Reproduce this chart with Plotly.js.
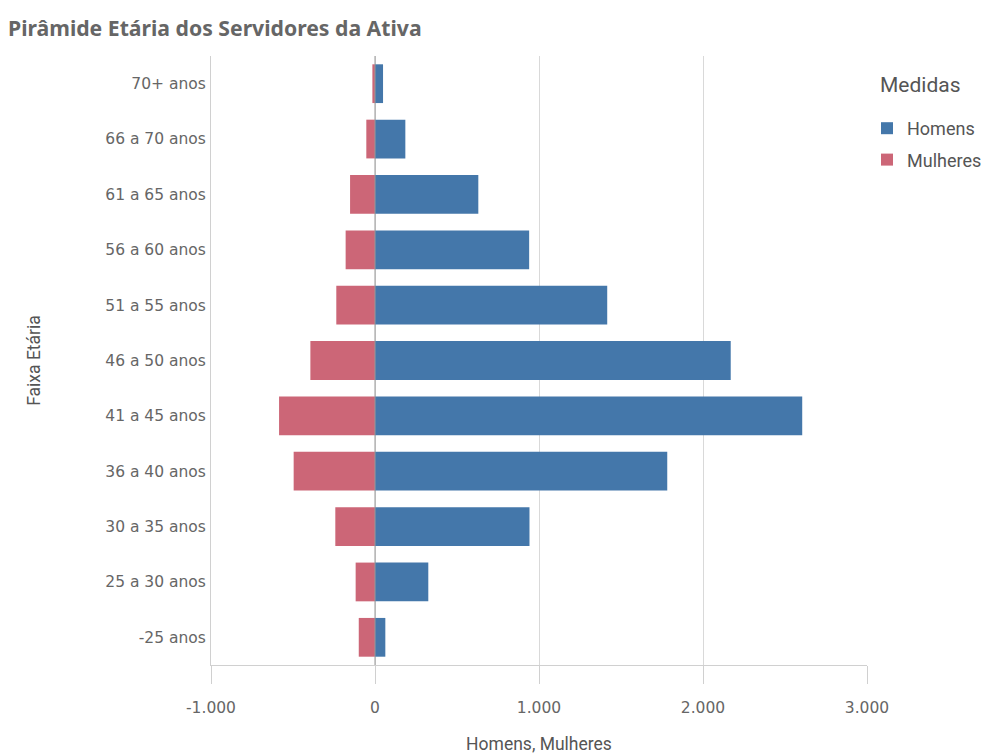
<!DOCTYPE html>
<html>
<head>
<meta charset="utf-8">
<script src="https://cdn.plot.ly/plotly-3.0.1.min.js"></script>
<style>
  html, body { margin: 0; padding: 0; background: #fff; }
  #chart { width: 995px; height: 754px; }
</style>
</head>
<body>
<div id="chart"></div>
<script>
// Age bands, listed top to bottom
const faixas = ['70+ anos', '66 a 70 anos', '61 a 65 anos', '56 a 60 anos', '51 a 55 anos',
                '46 a 50 anos', '41 a 45 anos', '36 a 40 anos', '30 a 35 anos', '25 a 30 anos', '-25 anos'];
// Headcount per band (women drawn to the left as negative values)
const homens   = [49, 185, 630, 940, 1416, 2169, 2605, 1782, 942, 325, 63];
const mulheres = [-16, -53, -152, -179, -236, -394, -585, -496, -242, -118, -99];
const xTicks = [-1000, 0, 1000, 2000, 3000];
const xTickText = ['-1.000', '0', '1.000', '2.000', '3.000'];

const tickFont = { family: 'DejaVu Sans, sans-serif', size: 15.5, color: '#666' };
const axisTitleFont = { family: 'Roboto, sans-serif', size: 17.5, color: '#555' };

const traces = [
  {
    type: 'bar', orientation: 'h', name: 'Homens', legendgroup: 'h',
    y: faixas, x: homens,
    marker: { color: '#4477aa' },
    hoverinfo: 'name+x'
  },
  {
    type: 'bar', orientation: 'h', name: 'Mulheres', legendgroup: 'm',
    y: faixas, x: mulheres,
    marker: { color: '#cc6677' },
    hoverinfo: 'name+x'
  }
];

const layout = {
  width: 995, height: 754,
  margin: { l: 211, r: 128, t: 56, b: 89 },
  paper_bgcolor: '#fff', plot_bgcolor: '#fff',
  barmode: 'relative',
  bargap: 0.3,
  title: {
    text: '<b>Pirâmide Etária dos Servidores da Ativa</b>',
    font: { family: 'Noto Sans, sans-serif', size: 21.2, color: '#666' },
    x: 8 / 995, xref: 'container', xanchor: 'left',
    y: 1 - 29 / 754, yref: 'container', yanchor: 'middle'
  },
  xaxis: {
    range: [-1000, 3000],
    tickmode: 'array', tickvals: xTicks, ticktext: xTickText,
    tickfont: tickFont,
    showgrid: true, gridcolor: '#d9d9d9', gridwidth: 1,
    zeroline: false,
    showline: true, linecolor: '#d0d0d0', linewidth: 1,
    ticks: 'outside', ticklen: 18, tickcolor: '#d0d0d0', tickwidth: 1,
    ticklabelstandoff: 10,
    title: { text: 'Homens, Mulheres', font: axisTitleFont, standoff: 22 },
    fixedrange: true
  },
  yaxis: {
    type: 'category',
    categoryorder: 'array', categoryarray: faixas,
    autorange: 'reversed',
    tickfont: tickFont,
    showgrid: false, zeroline: false,
    showline: true, linecolor: '#d0d0d0', linewidth: 1,
    ticks: '', ticklabelstandoff: 1,
    title: { text: 'Faixa Etária', font: axisTitleFont, standoff: 60 },
    fixedrange: true
  },
  legend: {
    font: { family: 'Roboto, sans-serif', size: 18, color: '#555' },
    xref: 'container', yref: 'container',
    x: 867 / 995, xanchor: 'left',
    y: 1 - 110 / 754, yanchor: 'top',
    traceorder: 'grouped',
    tracegroupgap: 5,
    itemwidth: 30,
    bgcolor: 'rgba(0,0,0,0)'
  },
  annotations: [
    { text: 'Medidas', showarrow: false,
      xref: 'paper', yref: 'paper', x: 1.0, y: 1 - (85 - 56) / 608,
      xshift: 11, xanchor: 'left', yanchor: 'middle',
      font: { family: 'Roboto, sans-serif', size: 21, color: '#555' } }
  ],
  shapes: [
    // Zero line drawn over the bars
    { type: 'line', xref: 'x', yref: 'paper', x0: 0, x1: 0, y0: 0, y1: 1,
      line: { color: '#999', width: 1 }, layer: 'above' }
  ]
};

Plotly.newPlot('chart', traces, layout, { displayModeBar: false, staticPlot: true });
</script>
</body>
</html>
